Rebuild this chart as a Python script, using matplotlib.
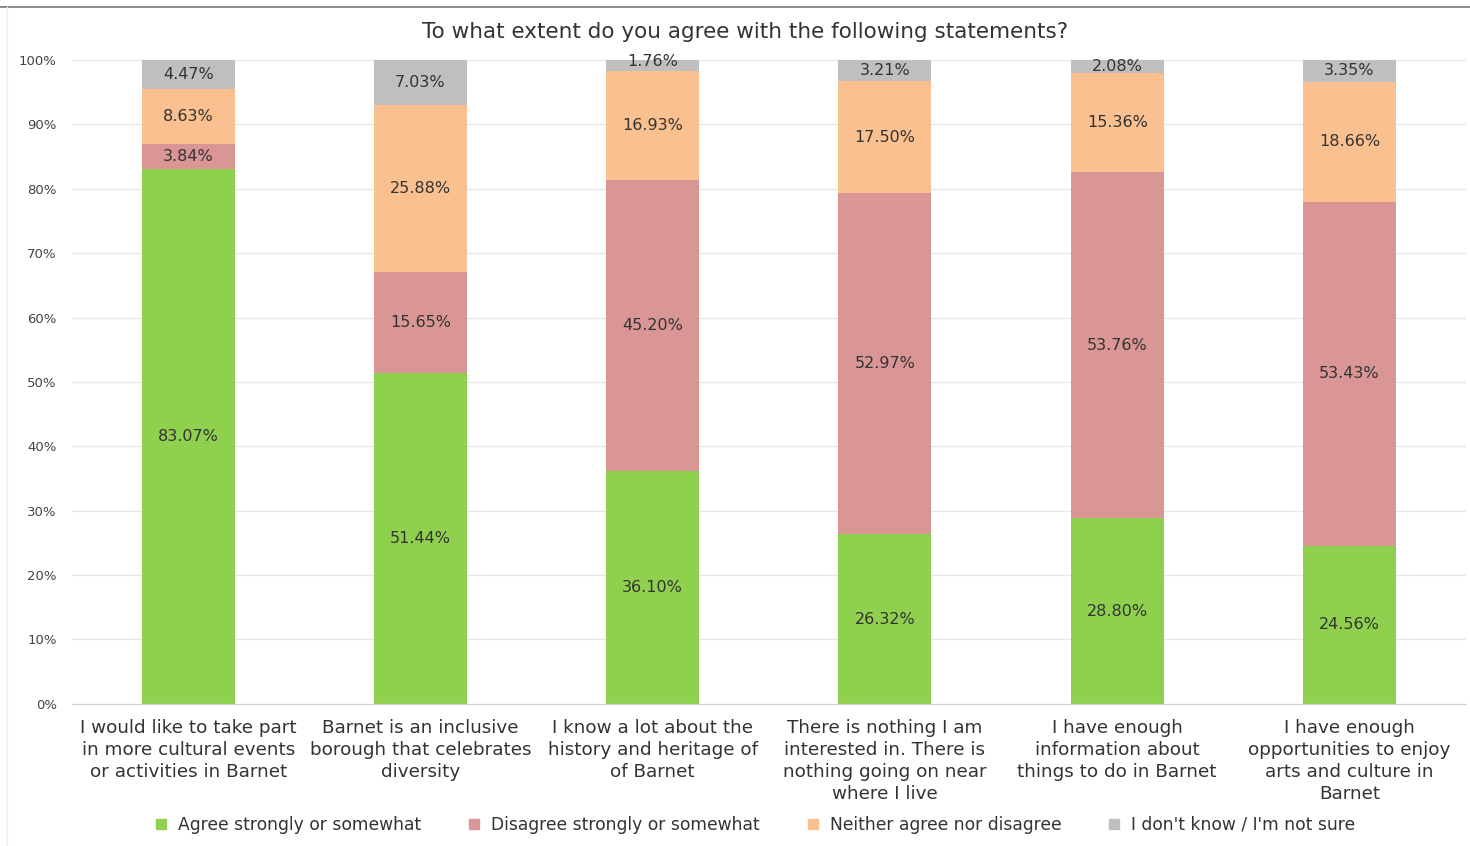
import numpy as np
import matplotlib.pyplot as plt
from matplotlib.lines import Line2D

plt.rcParams['font.family'] = ['DejaVu Sans']

categories = [
    "I would like to take part\nin more cultural events\nor activities in Barnet",
    "Barnet is an inclusive\nborough that celebrates\ndiversity",
    "I know a lot about the\nhistory and heritage of\nof Barnet",
    "There is nothing I am\ninterested in. There is\nnothing going on near\nwhere I live",
    "I have enough\ninformation about\nthings to do in Barnet",
    "I have enough\nopportunities to enjoy\narts and culture in\nBarnet",
]
agree = [83.07, 51.44, 36.10, 26.32, 28.80, 24.56]
disagree = [3.84, 15.65, 45.20, 52.97, 53.76, 53.43]
neither = [8.63, 25.88, 16.93, 17.50, 15.36, 18.66]
dont_know = [4.47, 7.03, 1.76, 3.21, 2.08, 3.35]

series = [
    ("Agree strongly or somewhat", agree, "#8fd14f"),
    ("Disagree strongly or somewhat", disagree, "#d99694"),
    ("Neither agree nor disagree", neither, "#fac090"),
    ("I don't know / I'm not sure", dont_know, "#bfbfbf"),
]

fig = plt.figure(figsize=(14.7, 8.46), dpi=100)
ax = fig.add_axes([0.049, 0.168, 0.948, 0.761])

x = np.arange(len(categories))
bottom = np.zeros(len(categories))
for name, vals, col in series:
    vals = np.array(vals)
    ax.bar(x, vals, 0.4, bottom=bottom, color=col, label=name, zorder=2)
    for xi, b, v in zip(x, bottom, vals):
        yc = b + v / 2
        if v < 2:
            yc = b + v - 0.2
        ax.text(xi, yc, f"{v:.2f}%", ha="center", va="center",
                fontsize=11.5, color="#333333", zorder=3)
    bottom += vals

ax.set_xlim(-0.5, len(categories) - 0.5)
ax.set_ylim(0, 100)
ax.set_yticks(np.arange(0, 101, 10))
ax.set_yticklabels([f"{t}%" for t in range(0, 101, 10)], fontsize=9.5, color="#444444")
ax.set_xticks(x)
ax.set_xticklabels(categories, fontsize=13.2, color="#333333", linespacing=1.28)
ax.tick_params(axis="both", length=0)
ax.tick_params(axis="y", pad=11)
ax.tick_params(axis="x", pad=11)
ax.grid(axis="y", color="#e6e6e6", linewidth=0.9, zorder=0)
for s in ["top", "right", "left"]:
    ax.spines[s].set_visible(False)
ax.spines["bottom"].set_color("#d0d0d0")

fig.text(0.507, 0.962, "To what extent do you agree with the following statements?",
         ha="center", va="center", fontsize=15.5, color="#333333")

handles = [Line2D([], [], marker="s", linestyle="none", markersize=7,
                  color=col, label=name) for name, _, col in series]
fig.legend(handles=handles, loc="center", bbox_to_anchor=(0.51, 0.025), ncol=4,
           frameon=False, fontsize=12.3, handletextpad=0.0, columnspacing=2.1,
           labelcolor="#333333")

# frame lines of the screenshot
fig.add_artist(Line2D([0.0, 1.0], [0.992, 0.992], color="#777777", linewidth=1.2))
fig.add_artist(Line2D([0.005, 0.005], [0.0, 0.992], color="#eeeeee", linewidth=1))

fig.savefig("out.png", dpi=100)
